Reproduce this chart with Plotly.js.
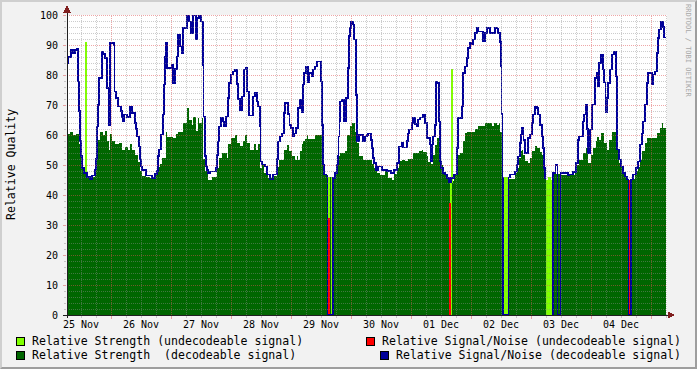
<!DOCTYPE html>
<html><head><meta charset="utf-8">
<script src="https://cdn.plot.ly/plotly-3.0.1.min.js"></script>
<style>
html,body{margin:0;padding:0;background:#F2F2F2;}
#wrap{position:relative;width:697px;height:369px;overflow:hidden;}
#chart{width:697px;height:369px;}
#frame{position:absolute;left:0;top:0;width:697px;height:369px;box-sizing:border-box;border-top:2px solid #CFCFCF;border-left:2px solid #CFCFCF;border-right:2px solid #9E9E9E;border-bottom:2px solid #9E9E9E;pointer-events:none;}
#chart svg path{shape-rendering:crispEdges;}
</style></head><body>
<div id="wrap"><div id="chart"></div><div id="frame"></div></div>
<script>
// hours since 25 Nov 00:00
const dayLabels = ['25 Nov','26 Nov','27 Nov','28 Nov','29 Nov','30 Nov','01 Dec','02 Dec','03 Dec','04 Dec'];
const dayNoon = [12,36,60,84,108,132,156,180,204,228];

// Relative Strength (decodeable signal)
const strongDecT = [6.4,7.6,8.8,10.0,11.2,11.6,12.2,12.8,14.4,15.2,
 16.4,17.6,18.4,18.8,19.6,20.8,21.6,22.4,23.2,23.6,
 24.4,25.6,27.2,28.4,29.6,30.8,31.6,32.4,33.6,34.8,
 35.6,36.4,38.0,39.6,41.6,42.8,43.6,44.4,46.0,46.4,
 48.8,50.0,50.8,52.8,54.4,55.2,56.4,56.8,58.0,58.8,
 59.2,60.4,60.8,61.6,62.8,64.4,66.4,67.2,68.4,70.4,
 70.8,72.0,73.6,74.4,75.6,76.8,77.6,78.4,79.6,81.2,
 82.0,82.8,83.6,84.4,85.2,86.8,88.8,90.4,91.2,93.2,
 94.4,95.2,96.4,97.6,98.4,98.8,99.6,100.4,100.8,101.6,
 102.4,102.8,105.6,108.4,108.8,109.2,110.6,111.6,112.0,112.8,
 113.6,114.8,115.6,117.6,118.4,119.6,120.4,121.6,122.4,
 123.2,124.8,128.4,129.2,130.4,131.6,133.6,134.8,136.4,137.2,
 138.4,139.2,140.4,141.6,142.8,144.8,147.2,148.4,148.8,150.4,
 150.8,152.0,152.8,153.6,154.4,155.2,156.0,156.8,158.0,158.8,
 159.4,160.2,160.6,161.2,162.4,163.6,164.8,165.6,166.4,169.6,
 170.8,173.6,176.4,177.2,178.4,179.2,179.6,180.4,180.8,183.0,
 185.6,186.4,187.2,187.8,188.4,188.8,189.6,190.8,191.6,192.4,
 193.6,194.4,195.6,196.2,196.8,197.8,200.6,203.6,209.6,210.4,
 211.2,212.8,214.0,214.8,216.0,216.8,218.0,218.4,219.2,220.0,
 221.2,222.4,223.2,224.4,226.4,226.8,227.2,228.4,229.2,230.4,
 232.0,233.6,234.8,235.6,236.4,237.6,238.4,242.4,243.6,244.4,
 244.8,246.0];
const strongDecV = [60.5,61,60,60.5,57,53,50,47,46.5,45.5,
 46,50,55,58.5,61,60,61.5,58,55,60.5,
 58,57,57.5,55,56,55,57,55,53.5,51,
 48,46.5,46,45.7,47.5,49.5,50.5,52.3,61,59.5,
 59,60.3,61,64,69,65,63.5,65.9,61.2,65.7,
 64,65.7,52,48,45.1,46,49,52.3,54,52.3,
 57,59,59.9,57.5,56.2,57.9,59.9,57.3,55.1,57,
 55.1,57,49,50.1,47.3,45.7,46.5,49.5,51.8,55.1,
 56.8,54.6,52.9,51.8,52.9,51.8,54.6,57,57.9,58.8,
 59.9,58.8,59.9,53,49,46.8,0,46,0,45.7,
 47,52.9,54,54.6,60,62.9,64,61,57.5,
 52.9,51.8,50.5,49,47.3,46.8,48,45.7,45.1,47,
 49,51.2,51.8,51.2,52,54,54.6,55.1,54.3,52.9,
 51,50.5,53.4,56.8,59,53.4,50,47.3,45.5,44.6,
 0,44,44.6,46.8,53.4,54,58,60.6,61,62.1,
 62.9,64,62.9,64,63.5,64,61,46.2,0,45.5,
 47.3,49,52.3,54.6,55.1,53.5,51.2,50.7,52.3,54.6,
 56.2,55.7,54.5,53.5,49,0,47,46.8,47.9,50.1,
 51.8,54,55.7,50.7,53.4,55.7,57.9,59.5,58.5,60.6,
 57.5,55.1,58.4,61,56,52,50.7,48.4,46.2,45.1,
 45.3,47.9,49.5,51.8,54.6,57.3,59,60.6,62.3,64,
 62.3,62.3];

// Relative Signal/Noise (decodeable signal)
const snDecT = [6.4,6.68,7.0,8.0,8.8,9.6,10.4,10.8,11.2,11.6,
 12.0,12.4,13.2,14.4,15.6,16.4,17.6,18.0,18.4,18.8,
 19.2,20.4,21.0,21.6,22.4,23.0,23.6,25.2,25.4,26.0,
 26.8,28.0,28.4,28.8,29.2,30.4,31.6,32.4,33.6,34.0,
 34.4,35.2,35.6,36.0,36.4,38.0,40.4,41.6,42.4,42.8,
 43.2,44.0,44.8,45.2,45.6,46.0,46.4,48.4,48.8,49.6,
 50.4,50.8,51.6,52.4,52.8,54.4,55.2,56.0,56.8,58.0,
 58.4,59.2,60.0,60.8,61.08,61.6,62.0,62.4,62.8,63.6,
 66.0,66.4,66.8,67.2,68.0,68.8,69.2,70.0,70.8,71.2,
 72.0,72.8,73.6,74.4,74.8,75.6,76.4,77.2,78.0,78.4,
 79.2,80.8,81.6,82.4,82.8,83.6,83.88,84.4,85.6,86.4,
 87.6,88.8,90.4,90.8,91.6,92.4,93.2,93.6,94.8,95.4,
 96.0,96.8,97.2,98.0,98.8,99.6,100.4,100.8,101.2,102.0,
 102.8,103.2,104.4,104.8,105.6,106.4,108.0,108.4,108.8,109.2,
 110.2,110.6,112.8,113.6,114.4,114.8,115.0,115.4,115.6,116.4,
 117.2,118.0,118.8,119.2,119.6,120.0,120.8,121.2,122.0,122.4,
 123.2,124.8,125.6,126.4,126.8,128.0,128.4,128.8,129.2,130.0,
 130.8,132.4,134.4,136.0,137.2,138.4,139.2,140.4,140.8,142.4,
 142.8,143.2,144.4,144.8,145.6,146.4,146.8,147.6,148.8,149.6,
 150.4,151.6,152.0,152.4,152.8,153.6,154.0,154.4,155.2,155.6,
 156.0,156.8,157.6,158.4,159.2,160.0,161.2,162.4,162.8,163.6,
 164.4,164.8,165.6,166.4,166.8,167.6,168.4,168.8,169.6,170.4,
 170.8,172.8,173.6,174.4,175.6,177.6,178.4,178.8,179.6,180.0,
 180.28,180.52,180.8,183.0,183.6,185.6,186.4,186.8,187.6,188.0,
 188.4,189.0,189.6,190.8,191.6,192.4,192.8,193.6,194.4,194.8,
 195.6,196.4,196.8,197.2,197.6,198.0,198.1,200.4,200.72,201.8,
 202.6,203.8,206.8,207.2,208.8,210.0,210.8,211.2,212.8,213.2,
 214.0,214.4,214.8,215.6,216.4,217.6,218.4,218.8,219.2,220.0,
 220.8,221.2,221.72,222.4,222.8,223.6,224.4,225.2,226.0,226.4,
 227.2,228.0,228.8,229.6,230.4,231.0,232.0,232.8,234.0,234.8,
 235.6,236.4,236.8,237.6,238.4,238.8,240.4,240.8,241.6,242.4,
 242.8,243.2,244.0,244.8,245.2,246.0];
const snDecV = [81,84,86,88.4,87.3,88.4,88.8,77.9,68,58,
 53,49,47.3,46,45.2,46.5,48.5,52,62.9,70,
 79,87.9,87,85.7,75.7,63.4,90.7,90,74.6,72.3,
 69.5,68,66,64.5,66.8,66,69.5,67.3,64,62,
 59.5,56.2,51.8,49.6,48.4,46.5,45.7,47,48,53,
 55.1,60.1,66.8,76.8,86.2,90.7,82.3,83.4,77.3,82,
 86.2,93.4,89.5,87.3,95.7,99.9,97.9,94,99.9,91.8,
 99,99.9,97.9,83.4,66.2,53,49.6,48.4,47.1,47.9,
 49,53.4,57.9,62.9,65.7,64.5,62.9,66.2,72.3,77.3,
 80.1,81.2,81.8,77,72,68.4,72.9,81.8,82.3,74.6,
 66.6,72.9,74,71.2,69.5,62.9,51.2,50.1,49.5,46.8,
 45.1,46.8,52,57.9,59.5,60.6,67.3,70.7,67,63.4,
 62.3,59.5,60.6,62.3,69,71.8,67.5,76.8,80.7,82.9,
 77.5,80.7,79.6,81.8,82.9,84.6,77.9,63.4,50.1,46.8,
 46.2,0,45.7,47.3,50.1,53,59.5,64.5,71.2,71.8,
 64.5,72.3,82.3,93,95.7,97.9,96.8,91.8,73.4,58,
 60,57.9,59.5,60,60.6,58.4,55.7,52.3,50.7,48.4,
 49.5,48.4,48,47.3,48.4,50.7,56.2,57.3,55.9,58,
 60.6,61.8,64,65.9,63.7,63,65.1,65.9,66.8,64,
 59,56.8,51.2,56.8,59.5,63.4,77.9,77.3,64.5,51.2,
 49,47.3,46.8,45.7,44.2,45.7,46.8,55.7,65.7,65.5,
 69.5,80.7,82.9,85.7,89,90.7,90.2,91.8,94,95.7,
 94.5,91.2,94,95.7,94,95.7,95.5,94,91,83,
 67,45.9,0,45.9,46.8,47.9,50.1,52.9,57.3,60.1,
 62.3,58.4,54,59,60.1,64,66.8,69.5,69,66.8,
 63.4,59.5,55.7,49,45.6,45.6,null,0,47.4,50,
 0,47.4,46.7,46.8,47.7,50.7,58.4,59.5,64.5,66.8,
 70.1,62,54,61.8,70.1,79,80.7,76.2,84,86.8,
 81.8,77.5,67.5,72.3,77.3,81.8,86.8,87.9,79.6,55.1,
 51.8,49.5,47.3,46.2,45.1,0,45.1,46.8,49,51.2,
 56.8,60.6,64.5,70.1,77.3,80.7,76.8,80.1,81.2,87.3,
 92.3,95.1,97.7,96,92.6,92.6];

// Relative Strength (undecodeable signal)
const strongUndT = [6.4,13.6,14.0,110.6,111.6,112.0,112.8,159.4,160.2,160.6,180.8,183.0,197.8,198.8,199.6,200.6,246.0];
const strongUndV = [0,90.7,0,46,0,46,0,44,82,0,45.7,0,45,45.7,45,0,0];

// Relative Signal/Noise (undecodeable signal)
const snUndT = [6.4,110.8,111.2,159.4,159.8,231.2,231.6,246.0];
const snUndV = [0,32.2,0,37.3,0,45,0,0];

const seriesNames = ['Relative Strength (undecodeable signal)','Relative Strength\u00A0 (decodeable signal)',
  'Relative Signal/Noise (undecodeable signal)','Relative Signal/Noise (decodeable signal)'];
const colors = ['#80FF00','#006600','#FF0000','#000099'];

const FONT = 'DejaVu Sans Mono, monospace';
const PX = x => (x - 67) / 600;
const PY = y => (315 - y) / 300;

const traces = [
  {x: strongUndT, y: strongUndV, type:'scatter', mode:'lines', line:{shape:'hv', width:1, color:colors[0], simplify:false}, fill:'tozeroy', fillcolor:colors[0], hoverinfo:'skip'},
  {x: strongDecT, y: strongDecV, type:'scatter', mode:'lines', line:{shape:'hv', width:0, color:colors[1], simplify:false}, fill:'tozeroy', fillcolor:colors[1], hoverinfo:'skip'},
  {x: snUndT, y: snUndV, type:'scatter', mode:'lines', line:{shape:'hv', width:1, color:colors[2], simplify:false}, hoverinfo:'skip'},
  {x: snDecT, y: snDecV, type:'scatter', mode:'lines', line:{shape:'hv', width:1.4, color:colors[3], simplify:false}, connectgaps:false, hoverinfo:'skip'}
];

const gMinor = 'rgba(143,143,143,0.45)';
const gMajor = 'rgba(222,79,79,0.5)';
const shapes = [];
for (let h = 12; h < 246.4; h += 6) {
  const major = h % 24 === 0;
  shapes.push({type:'line', layer:'above', xref:'x', yref:'paper', x0:h, x1:h, y0:0, y1:1,
    line:{color: major ? gMajor : gMinor, width:1, dash:'1px,1px'}});
}
for (let v = 2; v <= 100; v += 2) {
  const major = v % 10 === 0;
  shapes.push({type:'line', layer:'above', xref:'paper', yref:'y', x0:0, x1:1, y0:v, y1:v,
    line:{color: major ? gMajor : gMinor, width:1, dash:'1px,1px'}});
}
// axes lines and arrows
shapes.push({type:'line', layer:'above', xref:'paper', yref:'paper', x0:PX(63), x1:PX(669), y0:0, y1:0, line:{color:'#1F1F1F', width:1}});
shapes.push({type:'line', layer:'above', xref:'paper', yref:'paper', x0:0, x1:0, y0:PY(318), y1:PY(11), line:{color:'#1F1F1F', width:1}});
shapes.push({type:'path', layer:'above', xref:'paper', yref:'paper',
  path:`M ${PX(668)},${PY(312)} L ${PX(674)},${PY(315)} L ${PX(668)},${PY(318)} Z`, fillcolor:'#801F1F', line:{color:'#801F1F', width:1}});
shapes.push({type:'path', layer:'above', xref:'paper', yref:'paper',
  path:`M ${PX(64)},${PY(12)} L ${PX(67)},${PY(6)} L ${PX(70)},${PY(12)} Z`, fillcolor:'#801F1F', line:{color:'#801F1F', width:1}});

// legend
const legendPos = [[16,337,30],[16,351,30],[366,337,380],[380,351,394]];
const annotations = [];
for (let i = 0; i < 4; i++) {
  const [sx, sy, tx] = legendPos[i];
  shapes.push({type:'rect', layer:'above', xref:'paper', yref:'paper', x0:PX(sx), x1:PX(sx+8), y0:PY(sy+8), y1:PY(sy),
    fillcolor:colors[i], line:{color:'#000000', width:1}});
  annotations.push({xref:'paper', yref:'paper', x:PX(tx), y:PY(sy+4), xanchor:'left', yanchor:'middle', showarrow:false,
    text:seriesNames[i], font:{family:FONT, size:11.55, color:'#000'}});
}
for (let i = 0; i < dayLabels.length; i++) {
  annotations.push({xref:'x', yref:'paper', x:dayNoon[i], y:PY(324), xanchor:'center', yanchor:'middle', showarrow:false,
    text:dayLabels[i], font:{family:FONT, size:10, color:'#000'}});
}
annotations.push({xref:'paper', yref:'paper', x:PX(11), y:0.5, xanchor:'center', yanchor:'middle', showarrow:false,
  textangle:-90, text:'Relative Quality', font:{family:FONT, size:11.55, color:'#000'}});
annotations.push({xref:'paper', yref:'paper', x:PX(688), y:PY(51), xanchor:'center', yanchor:'middle', showarrow:false,
  textangle:90, text:'RRDTOOL / TOBI OETIKER', font:{family:FONT, size:7, color:'#A8A8A8'}});

const layout = {
  width:697, height:369,
  margin:{l:67, r:30, t:15, b:54, pad:0},
  paper_bgcolor:'#F2F2F2', plot_bgcolor:'#FFFFFF',
  showlegend:false,
  xaxis:{range:[6.4,246.4], showgrid:false, zeroline:false, showline:false, tick0:0, dtick:24,
    ticks:'outside', ticklen:3, tickcolor:gMajor, showticklabels:false,
    minor:{dtick:6, tick0:0, ticks:'outside', ticklen:2, tickcolor:gMinor, showgrid:false}},
  yaxis:{range:[0,100], showgrid:false, zeroline:false, showline:false, tick0:0, dtick:10,
    ticks:'outside', ticklen:3, tickcolor:gMajor, ticklabelstandoff:3,
    tickfont:{family:FONT, size:10, color:'#000'},
    minor:{dtick:2, ticks:'outside', ticklen:2, tickcolor:gMinor, showgrid:false}},
  shapes:shapes, annotations:annotations,
  font:{family:FONT}
};
Plotly.newPlot('chart', traces, layout, {staticPlot:true, displayModeBar:false});
</script>
</body></html>
